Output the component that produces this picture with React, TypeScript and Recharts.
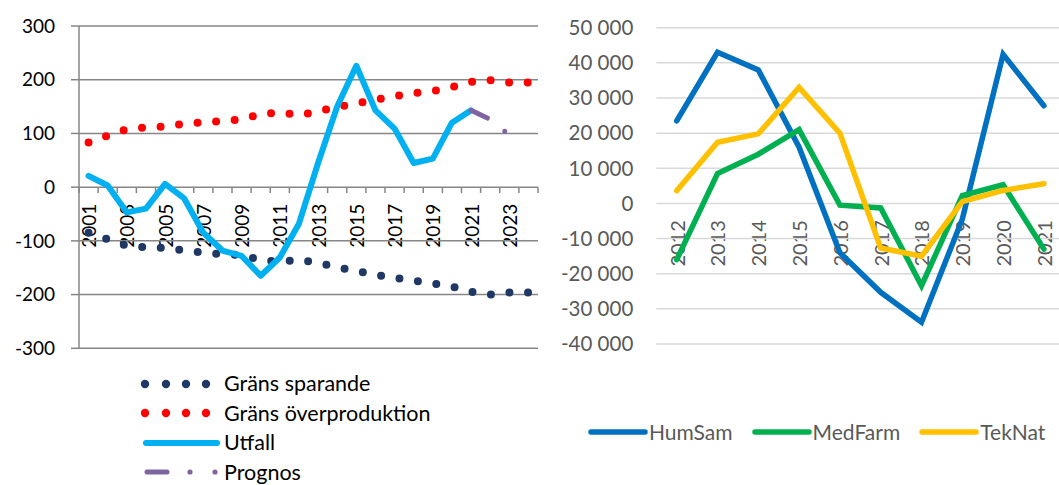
import React from "react";
import { LineChart, Line, XAxis, YAxis, CartesianGrid, Legend, ReferenceLine } from "recharts";

const FONT = "Lato, 'Open Sans', sans-serif";

// vänster diagram
const years = [2001, 2002, 2003, 2004, 2005, 2006, 2007, 2008, 2009, 2010, 2011, 2012, 2013, 2014, 2015, 2016, 2017, 2018, 2019, 2020, 2021, 2022, 2023, 2024];
const gransSparande = [-85, -97, -109, -112, -113, -118, -122, -125, -126, -136, -139, -135, -141, -149, -156, -163, -169, -174, -179, -185, -195, -200, -196, -196];
const gransOver = [83, 96, 108, 111, 113, 118, 121, 123, 126, 136, 139, 134, 141, 149, 156, 163, 169, 175, 179, 186, 196, 199, 195, 195];
const utfall = [21, 3, -47, -40, 6, -21, -85, -118, -128, -165, -131, -68, 45, 150, 226, 143, 109, 45, 53, 120, 143, null, null, null];
const prognos = [null, null, null, null, null, null, null, null, null, null, null, null, null, null, null, null, null, null, null, null, 143, 126, 97, null];
const leftTicks = [-300, -200, -100, 0, 100, 200, 300];

// höger diagram
const rightYears = ["2012", "2013", "2014", "2015", "2016", "2017", "2018", "2019", "2020", "2021"];
const humSam = [23500, 43000, 38000, 16000, -14000, -25300, -33800, -4500, 42400, 27800];
const medFarm = [-16000, 8500, 14000, 21000, -500, -1300, -23400, 2200, 5300, -13000];
const tekNat = [3600, 17400, 19800, 33000, 20000, -12700, -15000, 500, 3700, 5600];
const rightTicks = [-40000, -30000, -20000, -10000, 0, 10000, 20000, 30000, 40000, 50000];

const leftData = years.map((y, i) => ({
  year: y,
  sparande: gransSparande[i],
  over: gransOver[i],
  utfall: utfall[i],
  prognos: prognos[i],
}));

const rightData = rightYears.map((y, i) => ({
  year: y,
  HumSam: humSam[i],
  MedFarm: medFarm[i],
  TekNat: tekNat[i],
}));

const edgeTicks = [...years.map((y) => y - 0.5), years[years.length - 1] + 0.5];
const labelYears = years.filter((_, i) => i % 2 === 0);

const fmtThousands = (v: number) => {
  const s = Math.abs(v).toString().replace(/\B(?=(\d{3})+(?!\d))/g, " ");
  return (v < 0 ? "-" : "") + s;
};

const GRID_DARK = "#868686";
const GRID_LIGHT = "#D9D9D9";
const GREY_TEXT = "#595959";
// halv kategoribredd i höger diagram (408 px / 10 / 2)
const RIGHT_PAD = { left: 20.4, right: 20.4 };

function RotatedTick(props: any) {
  const { x, y, payload, offset, fill, fontSize } = props;
  const ty = y + offset;
  return (
    <text
      x={x}
      y={ty}
      transform={`rotate(-90, ${x}, ${ty})`}
      textAnchor="end"
      dominantBaseline="central"
      fill={fill}
      fontSize={fontSize}
      fontFamily={FONT}
    >
      {payload.value}
    </text>
  );
}

function LeftLegend() {
  const rows = [
    { name: "Gräns sparande", kind: "dots", color: "#1F3864" },
    { name: "Gräns överproduktion", kind: "dots", color: "#FF0000" },
    { name: "Utfall", kind: "line", color: "#00B0F0" },
    { name: "Prognos", kind: "dashdot", color: "#8064A2" },
  ];
  return (
    <div style={{ fontFamily: FONT, fontSize: 21.5, color: "#000" }}>
      {rows.map((r) => (
        <div key={r.name} style={{ display: "flex", alignItems: "center", height: 29.5 }}>
          <svg width={84} height={12} style={{ display: "block" }}>
            {r.kind === "dots" &&
              [5, 26, 46, 66].map((cx) => <circle key={cx} cx={cx} cy={6} r={4.2} fill={r.color} />)}
            {r.kind === "line" && (
              <line x1={6} y1={6} x2={77} y2={6} stroke={r.color} strokeWidth={6} strokeLinecap="round" />
            )}
            {r.kind === "dashdot" && (
              <g>
                <line x1={7} y1={6} x2={27} y2={6} stroke={r.color} strokeWidth={5} strokeLinecap="round" />
                <circle cx={50} cy={6} r={2.6} fill={r.color} />
                <circle cx={75} cy={6} r={2.6} fill={r.color} />
              </g>
            )}
          </svg>
          <span style={{ lineHeight: 1 }}>{r.name}</span>
        </div>
      ))}
    </div>
  );
}

function RightLegend() {
  const items = [
    { name: "HumSam", color: "#0070C0" },
    { name: "MedFarm", color: "#00B050" },
    { name: "TekNat", color: "#FFC000" },
  ];
  return (
    <div style={{ display: "flex", alignItems: "center", fontFamily: FONT, fontSize: 21, color: GREY_TEXT }}>
      {items.map((it) => (
        <div key={it.name} style={{ display: "flex", alignItems: "center", marginRight: 19 }}>
          <svg width={61} height={10} style={{ display: "block" }}>
            <line x1={3} y1={5} x2={57} y2={5} stroke={it.color} strokeWidth={5.5} strokeLinecap="round" />
          </svg>
          <span style={{ lineHeight: 1 }}>{it.name}</span>
        </div>
      ))}
    </div>
  );
}

export default function App() {
  return (
    <div style={{ position: "fixed", left: 0, top: 0, width: 1059, height: 485, overflow: "hidden", background: "#fff" }}>
      {/* vänster: årsetiketter vid noll */}
      <div style={{ position: "absolute", left: 0, top: 0 }}>
        <LineChart width={545} height={280} data={leftData} margin={{ top: 26, right: 7, bottom: 0, left: 79 }}>
          <YAxis domain={[-300, 0]} hide />
          <XAxis
            dataKey="year"
            type="number"
            domain={[2000.5, 2024.5]}
            ticks={labelYears}
            interval={0}
            tickLine={false}
            axisLine={false}
            tickSize={0}
            tickMargin={0}
            height={280 - 26 - 161.15}
            tick={(p: any) => <RotatedTick {...p} offset={16.5} fill="#000" fontSize={19} />}
          />
        </LineChart>
      </div>

      {/* vänster: data */}
      <div style={{ position: "absolute", left: 0, top: 0 }}>
        <LineChart width={545} height={485} data={leftData} margin={{ top: 26, right: 7, bottom: 136.7, left: 0 }}>
          <CartesianGrid vertical={false} stroke={GRID_DARK} strokeWidth={1.5} />
          <XAxis dataKey="year" type="number" domain={[2000.5, 2024.5]} hide />
          <YAxis
            domain={[-300, 300]}
            ticks={leftTicks}
            interval={0}
            width={79}
            tickSize={8}
            tickMargin={16}
            stroke={GRID_DARK}
            strokeWidth={1.5}
            tick={{ fill: "#000", fontSize: 19, fontFamily: FONT }}
          />
          {edgeTicks.map((b) => (
            <ReferenceLine
              key={b}
              segment={[{ x: b, y: 0 }, { x: b, y: -11 }]}
              stroke={GRID_DARK}
              strokeWidth={1.5}
            />
          ))}
          <Line dataKey="sparande" name="Gräns sparande" stroke="#1F3864" strokeWidth={8} strokeDasharray="0 18.6" strokeLinecap="round" dot={false} isAnimationActive={false} />
          <Line dataKey="over" name="Gräns överproduktion" stroke="#FF0000" strokeWidth={8} strokeDasharray="0 18.6" strokeLinecap="round" dot={false} isAnimationActive={false} />
          <Line dataKey="utfall" name="Utfall" stroke="#00B0F0" strokeWidth={6} strokeLinecap="round" strokeLinejoin="round" dot={false} isAnimationActive={false} />
          <Line dataKey="prognos" name="Prognos" stroke="#8064A2" strokeWidth={5} strokeDasharray="18 22 0 22" strokeLinecap="round" dot={false} isAnimationActive={false} />
          <Legend
            layout="vertical"
            align="center"
            verticalAlign="middle"
            content={() => <LeftLegend />}
            wrapperStyle={{ position: "absolute", left: 140, top: 369, width: 340, height: 118 }}
          />
        </LineChart>
      </div>

      {/* höger: årsetiketter vid noll */}
      <div style={{ position: "absolute", left: 560, top: 0 }}>
        <LineChart width={510} height={300} data={rightData} margin={{ top: 27.7, right: 5.7, bottom: 0, left: 96.3 }}>
          <YAxis domain={[-40000, 0]} hide />
          <XAxis
            dataKey="year"
            interval={0}
            padding={RIGHT_PAD}
            tickLine={false}
            axisLine={false}
            tickSize={0}
            tickMargin={0}
            height={300 - 203.7}
            tick={(p: any) => <RotatedTick {...p} offset={16.5} fill={GREY_TEXT} fontSize={20} />}
          />
        </LineChart>
      </div>

      {/* höger: data */}
      <div style={{ position: "absolute", left: 560, top: 0 }}>
        <LineChart width={510} height={485} data={rightData} margin={{ top: 27.7, right: 5.7, bottom: 141, left: 0 }}>
          <CartesianGrid vertical={false} stroke={GRID_LIGHT} strokeWidth={1.5} />
          <XAxis dataKey="year" padding={RIGHT_PAD} hide />
          <YAxis
            domain={[-40000, 50000]}
            ticks={rightTicks}
            interval={0}
            width={96.3}
            axisLine={false}
            tickLine={false}
            tickSize={0}
            tickMargin={23}
            tickFormatter={fmtThousands}
            tick={{ fill: GREY_TEXT, fontSize: 20.5, fontFamily: FONT }}
          />
          <Line dataKey="HumSam" stroke="#0070C0" strokeWidth={5.5} strokeLinecap="round" dot={false} isAnimationActive={false} />
          <Line dataKey="MedFarm" stroke="#00B050" strokeWidth={5.5} strokeLinecap="round" dot={false} isAnimationActive={false} />
          <Line dataKey="TekNat" stroke="#FFC000" strokeWidth={5.5} strokeLinecap="round" dot={false} isAnimationActive={false} />
          <Legend
            layout="vertical"
            align="center"
            verticalAlign="middle"
            content={() => <RightLegend />}
            wrapperStyle={{ position: "absolute", left: 28, top: 421, width: 480, height: 22 }}
          />
        </LineChart>
      </div>
    </div>
  );
}
